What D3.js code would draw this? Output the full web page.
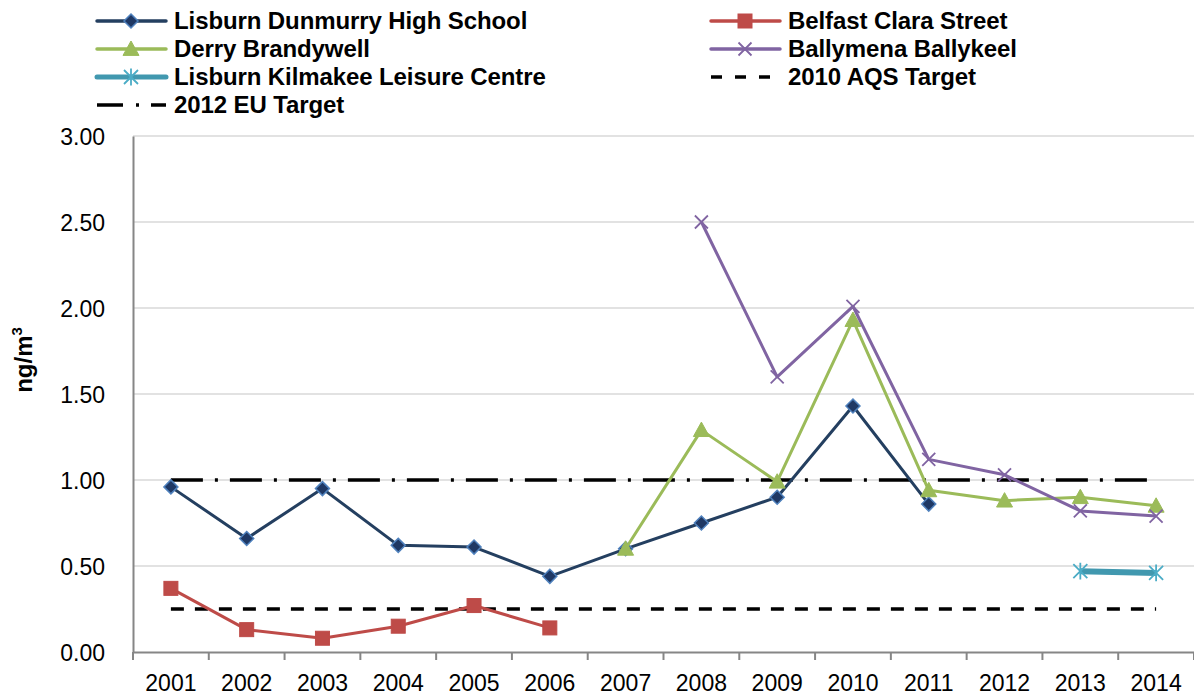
<!DOCTYPE html>
<html>
<head>
<meta charset="utf-8">
<script src="https://cdn.jsdelivr.net/npm/d3@7"></script>
<style>
  body { margin: 0; background: #fff; }
  text { font-family: "Liberation Sans", Arial, sans-serif; }
</style>
</head>
<body>
<div id="chart"></div>
<script>
const WIDTH = 1194;
const HEIGHT = 698;
const MARGIN = { top: 136, right: 0, bottom: 46, left: 133 };

// data
const years = ["2001", "2002", "2003", "2004", "2005", "2006", "2007",
    "2008", "2009", "2010", "2011", "2012", "2013", "2014"];
const yTicks = [0, 0.5, 1, 1.5, 2, 2.5, 3];

const lisburnDunmurry = [0.96, 0.66, 0.95, 0.62, 0.61, 0.44, 0.60, 0.75, 0.90, 1.43, 0.86, null, null, null];
const belfastClara = [0.37, 0.13, 0.08, 0.15, 0.27, 0.14, null, null, null, null, null, null, null, null];
const derryBrandywell = [null, null, null, null, null, null, 0.60, 1.29, 0.99, 1.93, 0.94, 0.88, 0.90, 0.85];
const ballymena = [null, null, null, null, null, null, null, 2.50, 1.60, 2.01, 1.12, 1.03, 0.82, 0.79];
const kilmakee = [null, null, null, null, null, null, null, null, null, null, null, null, 0.47, 0.46];
const aqsTarget = 0.25;
const euTarget = 1.0;

const series = [
    { name: "Lisburn Dunmurry High School", values: lisburnDunmurry, color: "#243F60", marker: "diamond", mFill: "#1F3864", mStroke: "#4F81BD", width: 3 },
    { name: "Belfast Clara Street", values: belfastClara, color: "#BE4B48", marker: "square", mFill: "#BE4B48", mStroke: "#BE4B48", width: 3 },
    { name: "Derry Brandywell", values: derryBrandywell, color: "#9BBB59", marker: "triangle", mFill: "#9BBB59", mStroke: "#9BBB59", width: 3 },
    { name: "Ballymena Ballykeel", values: ballymena, color: "#8064A2", marker: "x", mFill: "none", mStroke: "#8064A2", width: 3 },
    { name: "Lisburn Kilmakee Leisure Centre", values: kilmakee, color: "#4198AF", marker: "star", mFill: "none", mStroke: "#4BACC6", width: 6 }
];

const innerWidth = WIDTH - MARGIN.left - MARGIN.right;
const innerHeight = HEIGHT - MARGIN.top - MARGIN.bottom;

const svg = d3.select("#chart")
    .append("svg")
    .attr("width", WIDTH)
    .attr("height", HEIGHT);

const inner = svg.append("g")
    .attr("transform", `translate(${MARGIN.left},${MARGIN.top})`);

const x = d3.scaleBand().domain(years).range([0, innerWidth]);
const y = d3.scaleLinear().domain([0, 3]).range([innerHeight, 0]);
const cx = (i) => x(years[i]) + x.bandwidth() / 2;

// gridlines
inner.append("g")
    .selectAll("line")
    .data(yTicks.filter((d) => d > 0))
    .join("line")
    .attr("x1", 0)
    .attr("x2", innerWidth)
    .attr("y1", (d) => y(d))
    .attr("y2", (d) => y(d))
    .attr("stroke", "#d9d9d9")
    .attr("stroke-width", 1.5);

// Y axis
const yAxis = inner.append("g")
    .call(d3.axisLeft(y).tickValues(yTicks).tickFormat(d3.format(".2f")).tickSize(0).tickPadding(28));
yAxis.select(".domain").attr("stroke", "#868686").attr("stroke-width", 2);
yAxis.selectAll("text")
    .style("font-size", "23px")
    .attr("fill", "#000")
    .attr("dy", "0.35em");

// X axis
const xAxis = inner.append("g")
    .attr("transform", `translate(0,${innerHeight})`)
    .call(d3.axisBottom(x).tickSize(0).tickPadding(23));
xAxis.select(".domain").attr("stroke", "#868686").attr("stroke-width", 2);
xAxis.selectAll("text")
    .style("font-size", "23px")
    .attr("fill", "#000");
xAxis.append("g")
    .selectAll("line")
    .data(d3.range(years.length + 1))
    .join("line")
    .attr("x1", (d) => d * x.step())
    .attr("x2", (d) => d * x.step())
    .attr("y1", 0)
    .attr("y2", 8)
    .attr("stroke", "#868686")
    .attr("stroke-width", 2);

// axis title
svg.append("text")
    .attr("transform", "translate(32,360) rotate(-90)")
    .attr("text-anchor", "middle")
    .style("font-size", "24px")
    .style("font-weight", "bold")
    .text("ng/m")
    .append("tspan")
    .attr("dy", "-10")
    .style("font-size", "15px")
    .text("3");

// target lines
const x0 = cx(0);
const x1 = cx(years.length - 1);
inner.append("line")
    .attr("x1", x0).attr("x2", x1)
    .attr("y1", y(aqsTarget)).attr("y2", y(aqsTarget))
    .attr("stroke", "#000")
    .attr("stroke-width", 3.5)
    .attr("stroke-dasharray", "13,11");
inner.append("line")
    .attr("x1", x0).attr("x2", x1)
    .attr("y1", y(euTarget)).attr("y2", y(euTarget))
    .attr("stroke", "#000")
    .attr("stroke-width", 3.5)
    .attr("stroke-dasharray", "32,12,3,12");

// marker shapes
function drawMarker(g, s, px, py, scale = 1) {
    if (s.marker === "diamond") {
        const r = 7 * scale;
        g.append("path")
            .attr("d", `M${px},${py - r}L${px + r},${py}L${px},${py + r}L${px - r},${py}Z`)
            .attr("fill", s.mFill).attr("stroke", s.mStroke).attr("stroke-width", 1.5);
    } else if (s.marker === "square") {
        const r = 7 * scale;
        g.append("rect")
            .attr("x", px - r).attr("y", py - r)
            .attr("width", 2 * r).attr("height", 2 * r)
            .attr("fill", s.mFill).attr("stroke", s.mStroke).attr("stroke-width", 1);
    } else if (s.marker === "triangle") {
        const r = 8 * scale;
        g.append("path")
            .attr("d", `M${px},${py - r}L${px + r},${py + r * 0.8}L${px - r},${py + r * 0.8}Z`)
            .attr("fill", s.mFill).attr("stroke", s.mStroke).attr("stroke-width", 1);
    } else if (s.marker === "x") {
        const r = 6.5 * scale;
        g.append("path")
            .attr("d", `M${px - r},${py - r}L${px + r},${py + r}M${px - r},${py + r}L${px + r},${py - r}`)
            .attr("stroke", s.mStroke).attr("stroke-width", 1.8).attr("fill", "none");
    } else if (s.marker === "star") {
        const r = 7 * scale;
        g.append("path")
            .attr("d", `M${px - r},${py - r}L${px + r},${py + r}M${px - r},${py + r}L${px + r},${py - r}M${px},${py - r * 1.2}L${px},${py + r * 1.2}`)
            .attr("stroke", s.mStroke).attr("stroke-width", 1.8).attr("fill", "none");
    }
}

// series
series.forEach((s) => {
    const pts = s.values.map((v, i) => ({ i, v })).filter((d) => d.v !== null);
    inner.append("path")
        .datum(pts)
        .attr("fill", "none")
        .attr("stroke", s.color)
        .attr("stroke-width", s.width)
        .attr("stroke-linejoin", "round")
        .attr("d", d3.line().x((d) => cx(d.i)).y((d) => y(d.v)));
    const mg = inner.append("g");
    pts.forEach((d) => drawMarker(mg, s, cx(d.i), y(d.v)));
});

// legend
const legendItems = [
    series[0], series[1], series[2], series[3], series[4],
    { name: "2010 AQS Target", dash: "11,13" },
    { name: "2012 EU Target", dash: "26,13,3,12" }
];
const legend = svg.append("g");
legendItems.forEach((item, k) => {
    const col = k % 2;
    const row = Math.floor(k / 2);
    const lx = col === 0 ? 97 : 711;
    const ly = 21 + row * 28;
    const g = legend.append("g");
    if (item.dash) {
        g.append("line")
            .attr("x1", lx).attr("x2", lx + 69)
            .attr("y1", ly).attr("y2", ly)
            .attr("stroke", "#000").attr("stroke-width", 3.5)
            .attr("stroke-dasharray", item.dash);
    } else {
        g.append("line")
            .attr("x1", lx).attr("x2", lx + 69)
            .attr("y1", ly).attr("y2", ly)
            .attr("stroke", item.color).attr("stroke-width", item.width === 6 ? 5 : 3.5)
            .attr("stroke-linecap", "round");
        drawMarker(g, item, lx + 34, ly);
    }
    g.append("text")
        .attr("x", lx + 77)
        .attr("y", ly)
        .attr("dy", "0.35em")
        .style("font-size", "24px")
        .style("font-weight", "bold")
        .style("letter-spacing", "-0.1px")
        .text(item.name);
});
</script>
</body>
</html>
